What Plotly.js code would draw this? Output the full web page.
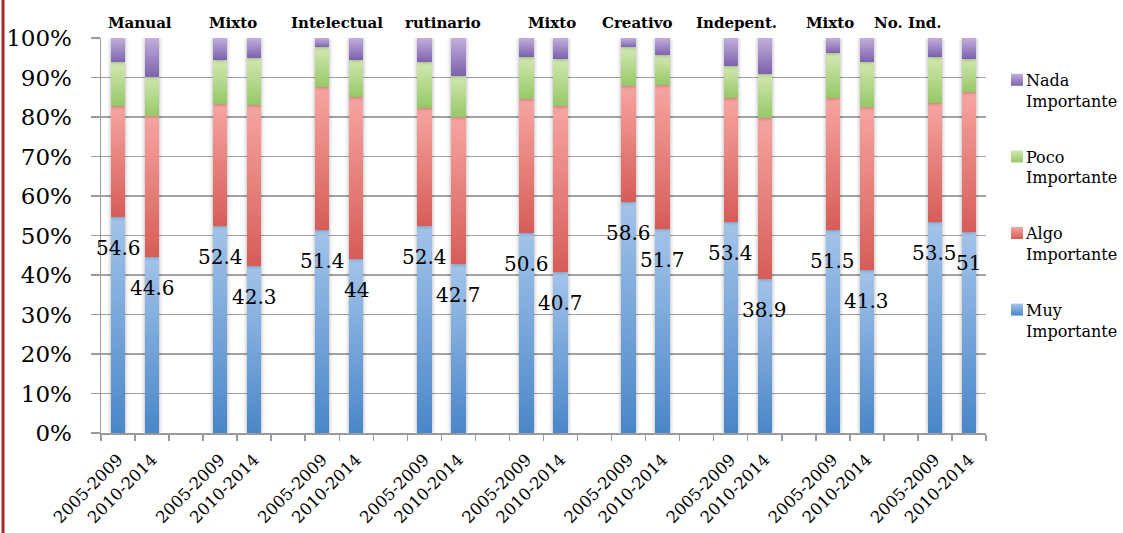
<!DOCTYPE html>
<html>
<head>
<meta charset="utf-8">
<script src="https://cdn.plot.ly/plotly-3.0.1.min.js"></script>
<style>
  html, body { margin: 0; padding: 0; background: #fff; }
  #chart { width: 1123px; height: 533px; }
  .barlayer .point path { filter: drop-shadow(0 0 2px rgba(0,0,0,0.35)); }
</style>
</head>
<body>
<div id="chart"></div>
<script>
// Occupation groups and the two survey periods
const groups = ['Manual', 'Mixto', 'Intelectual', 'rutinario', 'Mixto', 'Creativo', 'Indepent.', 'Mixto', 'No. Ind.'];
const periods = ['2005-2009', '2010-2014'];

// Share of answers (%) per group, one array per period
const muy_2005 = [54.6, 52.4, 51.4, 52.4, 50.6, 58.6, 53.4, 51.5, 53.5];
const muy_2010 = [44.6, 42.3, 44, 42.7, 40.7, 51.7, 38.9, 41.3, 51];
const algo_2005 = [28.3, 31.0, 36.2, 30.0, 34.0, 29.3, 31.5, 33.4, 30.1];
const algo_2010 = [35.7, 40.7, 41.1, 37.3, 42.2, 36.5, 40.9, 41.3, 35.4];
const poco_2005 = [10.9, 11.1, 10.0, 11.4, 10.7, 9.7, 7.9, 11.2, 11.7];
const poco_2010 = [9.9, 12.0, 9.4, 10.5, 11.9, 7.4, 11.2, 11.4, 8.4];
const nada_2005 = [6.2, 5.5, 2.4, 6.2, 4.7, 2.4, 7.2, 3.9, 4.7];
const nada_2010 = [9.8, 5.0, 5.5, 9.5, 5.2, 4.4, 9.0, 6.0, 5.2];

const seriesNames = ['Muy<br>Importante', 'Algo<br>Importante', 'Poco<br>Importante', 'Nada<br>Importante'];
const seriesData = [
  [muy_2005, muy_2010],
  [algo_2005, algo_2010],
  [poco_2005, poco_2010],
  [nada_2005, nada_2010]
];

// colour stops (top, bottom) for each series
const palette = [
  ['#a3c4ea', '#4a86c8'],
  ['#f7a5a1', '#d65c58'],
  ['#d2e8b0', '#97c868'],
  ['#c1afdc', '#7d62ad']
];

// each group takes two slots for its bars plus one empty slot
const slot = (g, p) => g * 3 + p;

const xs = [], tickText = [];
groups.forEach((_, g) => periods.forEach((per, p) => { xs.push(slot(g, p)); tickText.push(per); }));

const interleave = ([a, b]) => { const out = []; a.forEach((v, i) => { out.push(v, b[i]); }); return out; };

const traces = seriesNames.map((name, s) => ({
  type: 'bar',
  name: name,
  x: xs,
  y: interleave(seriesData[s]),
  legendgroup: 'g' + s,
  legendrank: 1000 - s,
  marker: { color: palette[s][1], line: { width: 0 } },
  width: 0.42,
  hoverinfo: 'skip'
}));

const muyAll = interleave(seriesData[0]);
const valueLabels = muyAll.map((v, i) => ({
  x: xs[i], y: v, xref: 'x', yref: 'y',
  text: String(v), showarrow: false,
  yanchor: 'middle', yshift: -31,
  font: { family: 'DejaVu Serif', size: 20, color: '#000' }
}));

// header label placement along the x axis
const groupLabelX = [0.65, 3.38, 6.44, 9.56, 12.76, 15.26, 18.17, 20.91, 23.2];
const groupLabels = groups.map((g, i) => ({
  x: groupLabelX[i], y: 1.038, xref: 'x', yref: 'paper',
  text: '<b>' + g + '</b>', showarrow: false, yanchor: 'middle',
  font: { family: 'DejaVu Serif', size: 15, color: '#000' }
}));

const layout = {
  width: 1123, height: 533,
  margin: { l: 101, r: 137, t: 38, b: 100, autoexpand: false },
  paper_bgcolor: '#fff', plot_bgcolor: '#fff',
  barmode: 'stack',
  showlegend: true,
  legend: {
    x: 1.0, xanchor: 'left', y: 0.937, yanchor: 'top',
    traceorder: 'grouped', tracegroupgap: 32, valign: 'top',
    font: { family: 'DejaVu Serif', size: 16, color: '#000' },
    itemwidth: 30
  },
  xaxis: {
    range: [-0.5, 25.5],
    tickmode: 'array', tickvals: xs, ticktext: tickText,
    tickangle: -45, ticks: '',
    ticklabelstandoff: 9,
    tickfont: { family: 'DejaVu Serif', size: 16.5, color: '#000' },
    showline: true, linecolor: '#9a9a9a', linewidth: 1.5,
    showgrid: false, zeroline: false,
    minor: { tickmode: 'linear', tick0: -0.5, dtick: 1, ticks: 'outside', ticklen: 6, tickcolor: '#9a9a9a', tickwidth: 1.5, showgrid: false }
  },
  yaxis: {
    range: [0, 100], dtick: 10, ticksuffix: '%',
    ticks: 'outside', ticklen: 9, tickcolor: '#9a9a9a', tickwidth: 1.5,
    ticklabelstandoff: 14,
    tickfont: { family: 'DejaVu Serif', size: 23, color: '#000' },
    showline: true, linecolor: '#9a9a9a', linewidth: 1.5,
    showgrid: true, gridcolor: '#a3a3a3', gridwidth: 1.6,
    zeroline: false
  },
  shapes: [{
    type: 'line', xref: 'paper', yref: 'paper',
    x0: -0.1107, x1: -0.1107, y0: -0.26, y1: 1.1,
    line: { color: '#a32a2c', width: 3 }
  }],
  annotations: groupLabels.concat(valueLabels)
};

const gd = document.getElementById('chart');
Plotly.newPlot(gd, traces, layout, { staticPlot: true }).then(() => {
  // vertical colour gradients on every bar segment and legend swatch
  const svg = gd.querySelector('svg.main-svg');
  const ns = 'http://www.w3.org/2000/svg';
  let defs = svg.querySelector('defs');
  if (!defs) { defs = document.createElementNS(ns, 'defs'); svg.insertBefore(defs, svg.firstChild); }
  palette.forEach((c, s) => {
    const lg = document.createElementNS(ns, 'linearGradient');
    lg.setAttribute('id', 'barGrad' + s);
    lg.setAttribute('x1', '0'); lg.setAttribute('y1', '0');
    lg.setAttribute('x2', '0'); lg.setAttribute('y2', '1');
    [[0, c[0]], [1, c[1]]].forEach(([o, col]) => {
      const st = document.createElementNS(ns, 'stop');
      st.setAttribute('offset', o); st.setAttribute('stop-color', col);
      lg.appendChild(st);
    });
    defs.appendChild(lg);
  });
  gd.querySelectorAll('.barlayer .trace').forEach((tr, s) => {
    tr.querySelectorAll('.point path').forEach(p => { p.style.fill = 'url(#barGrad' + s + ')'; });
  });
  gd.querySelectorAll('.legend .traces').forEach(tr => {
    const d = tr.__data__;
    const idx = d && d[0] && d[0].trace ? d[0].trace.index : null;
    if (idx === null) return;
    tr.querySelectorAll('.legendpoints path').forEach(p => { p.style.fill = 'url(#barGrad' + idx + ')'; });
    // keep the swatch snug against its label
    tr.querySelectorAll('g.legendpoints').forEach(g => { g.setAttribute('transform', 'translate(11,0)'); });
  });
});
</script>
</body>
</html>
